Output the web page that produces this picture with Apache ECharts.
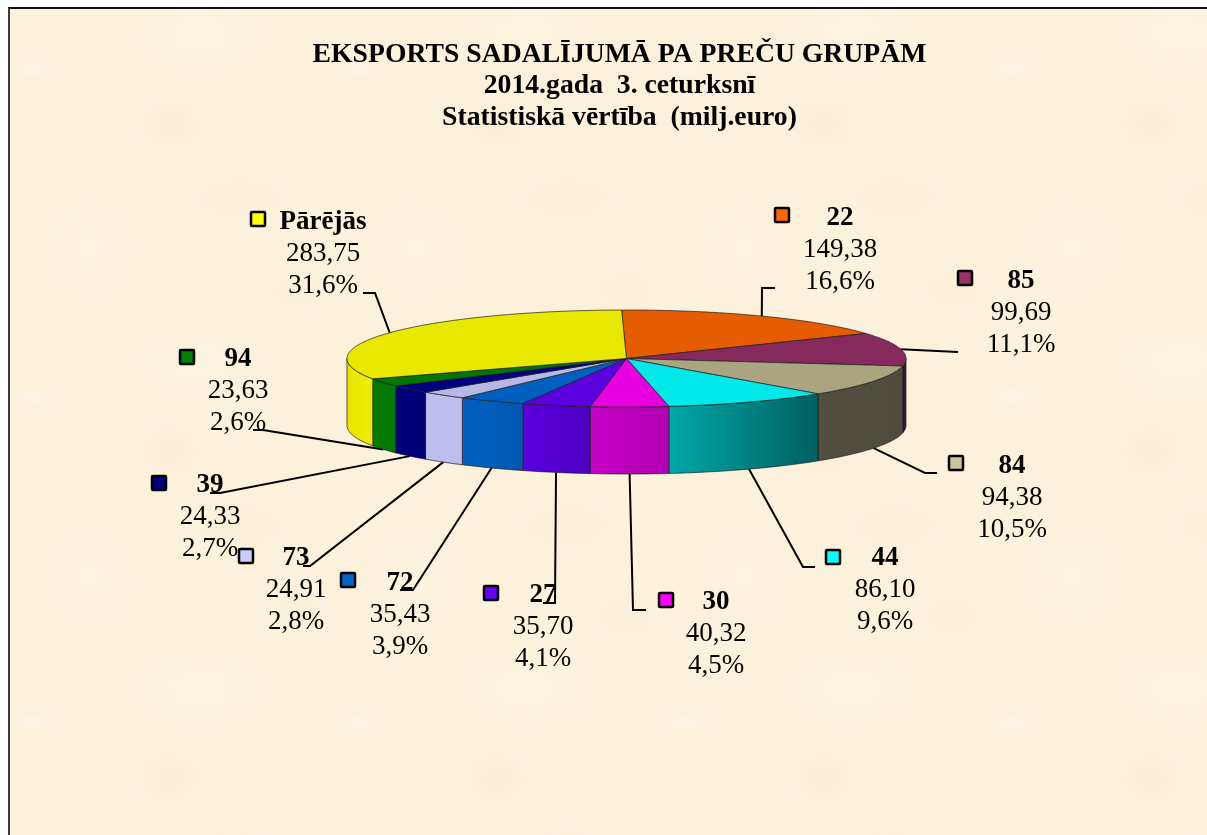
<!DOCTYPE html>
<html>
<head>
<meta charset="utf-8">
<title>Eksports</title>
<script src="https://cdn.jsdelivr.net/npm/echarts@6/dist/echarts.min.js"></script>
<style>
html, body { margin: 0; padding: 0; background: #fff; overflow: hidden; }
#frame {
	position: absolute; left: 8px; top: 7px; width: 1199px; height: 828px;
	border-top: 2px solid #111; border-left: 2px solid #3a3a3a; box-sizing: border-box;
	background-color: #fcf1db;
	background-image:
		radial-gradient(ellipse 22px 10px at 22px 60px, rgba(255,246,240,.6), rgba(255,246,240,0)),
		radial-gradient(ellipse 30px 26px at 160px 115px, rgba(240,225,190,.28), rgba(240,225,190,0)),
		radial-gradient(ellipse 60px 34px at 190px 25px, rgba(255,248,228,.5), rgba(255,248,228,0)),
		radial-gradient(ellipse 44px 24px at 230px 190px, rgba(244,230,198,.25), rgba(244,230,198,0)),
		radial-gradient(ellipse 40px 44px at 80px 240px, rgba(255,246,226,.45), rgba(255,246,226,0)),
		radial-gradient(ellipse 30px 20px at 290px 280px, rgba(245,232,200,.22), rgba(245,232,200,0));
	background-size: 327px 327px;
}
#main { position: absolute; left: 0; top: 0; width: 1207px; height: 835px; }
</style>
</head>
<body>
<div id="frame"></div>
<div id="main"></div>
<script>
// dati no attēla
var groups = ['22', '85', '84', '44', '30', '27', '72', '73', '39', '94', 'Pārējās'];
var values = [149.38, 99.69, 94.38, 86.10, 40.32, 35.70, 35.43, 24.91, 24.33, 23.63, 283.75];
var percents = ['16,6%', '11,1%', '10,5%', '9,6%', '4,5%', '4,1%', '3,9%', '2,8%', '2,7%', '2,6%', '31,6%'];
var titleLines = ['EKSPORTS SADALĪJUMĀ PA PREČU GRUPĀM', '2014.gada  3. ceturksnī', 'Statistiskā vērtība  (milj.euro)'];

// krāsas
var topColors = ['#e65c00', '#862a5e', '#aaa581', '#00e8e8', '#e800e0', '#5c00e0', '#0060c0', '#b8b8e8', '#000080', '#007800', '#e8e800'];
var keyColors = ['#ff6600', '#993366', '#c8c49c', '#00ffff', '#ff00ff', '#6600ff', '#0066cc', '#ccccff', '#000080', '#008000', '#ffff00'];
var wallColors = [
	['#000', '#000'], ['#3a1438', '#3a1438'], ['#524e40', '#4e4a3c'], ['#00a8a8', '#006060'],
	['#c800c8', '#b000b0'], ['#5c00e0', '#4c00c0'], ['#0060c0', '#0058b0'], ['#bdbdee', '#bdbdee'],
	['#000078', '#000078'], ['#007a00', '#007a00'], ['#e6e600', '#eeee00']
];

// izkārtojums: atslēga, teksta centrs un y, līnijas punkti
var keyPos = [[782, 215], [965, 278], [956, 463], [833, 557], [666, 600], [491, 593], [348, 580], [246, 556], [159, 483], [187, 357], [258, 219]];
var textPos = [[840, 218], [1021, 281], [1012, 466], [885, 558], [716, 602], [543, 595], [400, 583], [296, 558], [210, 485], [238, 359], [323, 222]];
var leaderPts = [
	[[762, 288], [775, 288]],
	[[958, 352]],
	[[925, 473], [937, 473]],
	[[803, 567], [815, 567]],
	[[633, 610], [646, 610]],
	[[555, 603], [543, 603]],
	[[413, 590], [400, 590]],
	[[310, 566], [303, 566]],
	[[220, 493], [210, 493]],
	[[263, 430], [253, 430]],
	[[375, 293], [363, 293]]
];

var cx = 626.5, cy = 358.5, rx = 279.5, ry = 48.5, depth = 67;
var startDeg = -1;
var total = values.reduce(function(a, b) { return a + b; }, 0);

function sliceRange(i) {
	var sum = 0;
	for (var k = 0; k < i; k++) sum += values[k];
	return [startDeg + sum / total * 360, startDeg + (sum + values[i]) / total * 360];
}

// leņķis skaitīts pulksteņrādītāja virzienā no augšas
function rim(deg, dy) {
	var a = deg * Math.PI / 180;
	return [cx + rx * Math.sin(a), cy - ry * Math.cos(a) + (dy || 0)];
}

function arc(a0, a1, dy) {
	var pts = [];
	var n = Math.max(2, Math.ceil(Math.abs(a1 - a0)));
	for (var k = 0; k <= n; k++) pts.push(rim(a0 + (a1 - a0) * k / n, dy));
	return pts;
}

function renderWall(params, api) {
	var i = params.dataIndex;
	var r = sliceRange(i);
	var a0 = Math.max(r[0], 90), a1 = Math.min(r[1], 270);
	if (a1 <= a0) return { type: 'group', children: [] };
	var pts = arc(a0, a1, 0).concat(arc(a1, a0, depth));
	return {
		type: 'polygon',
		shape: { points: pts },
		style: {
			fill: new echarts.graphic.LinearGradient(0, 0, 1, 0, [
				{ offset: 0, color: wallColors[i][0] },
				{ offset: 1, color: wallColors[i][1] }
			]),
			stroke: '#1c1c1c',
			lineWidth: 0.7
		}
	};
}

function renderTop(params, api) {
	var i = params.dataIndex;
	var r = sliceRange(i);
	return {
		type: 'polygon',
		shape: { points: [[cx, cy]].concat(arc(r[0], r[1], 0)) },
		style: { fill: topColors[i], stroke: '#1c1c1c', lineWidth: 0.7 }
	};
}

function renderLeader(params, api) {
	var i = params.dataIndex;
	var r = sliceRange(i);
	var mid = (r[0] + r[1]) / 2;
	// aizmugurē līnija sākas no augšējās malas, priekšā no apakšējās
	var front = mid > 100 && mid < 260;
	var start = rim(mid, front ? depth : 0);
	return {
		type: 'polyline',
		shape: { points: [start].concat(leaderPts[i]) },
		style: { fill: 'none', stroke: '#000', lineWidth: 2 }
	};
}

function fmt(v) {
	return v.toFixed(2).replace('.', ',');
}

function renderLabel(params, api) {
	var i = params.dataIndex;
	var p = textPos[i], k = keyPos[i];
	var line = function(text, y, bold) {
		return {
			type: 'text',
			style: {
				x: p[0], y: y, text: text, fill: '#000', align: 'center', verticalAlign: 'middle',
				font: (bold ? 'bold ' : '') + '27px "Liberation Serif", serif'
			}
		};
	};
	return {
		type: 'group',
		children: [
			{
				type: 'rect',
				shape: { x: k[0] - 7, y: k[1] - 7, width: 14, height: 14, r: 1 },
				style: { fill: keyColors[i], stroke: '#000', lineWidth: 2.5 }
			},
			line(groups[i], p[1], true),
			line(fmt(api.value(0)), p[1] + 32, false),
			line(percents[i], p[1] + 64, false)
		]
	};
}

var chart = echarts.init(document.getElementById('main'), null, { renderer: 'canvas' });

function customSeries(name, fn, z) {
	return {
		type: 'custom',
		name: name,
		coordinateSystem: 'none',
		renderItem: fn,
		z: z,
		silent: true,
		data: values.map(function(v, i) { return { name: groups[i], value: [v] }; })
	};
}

chart.setOption({
	animation: false,
	backgroundColor: 'transparent',
	title: {
		text: titleLines.join('\n'),
		left: 614.5,
		top: 34,
		textAlign: 'center',
		textStyle: {
			fontFamily: '"Liberation Serif", serif',
			fontWeight: 'bold',
			fontSize: 27.7,
			lineHeight: 31.5,
			color: '#000'
		}
	},
	series: [
		customSeries('lines', renderLeader, 1),
		customSeries('walls', renderWall, 2),
		customSeries('top', renderTop, 3),
		customSeries('labels', renderLabel, 4)
	]
});
</script>
</body>
</html>
